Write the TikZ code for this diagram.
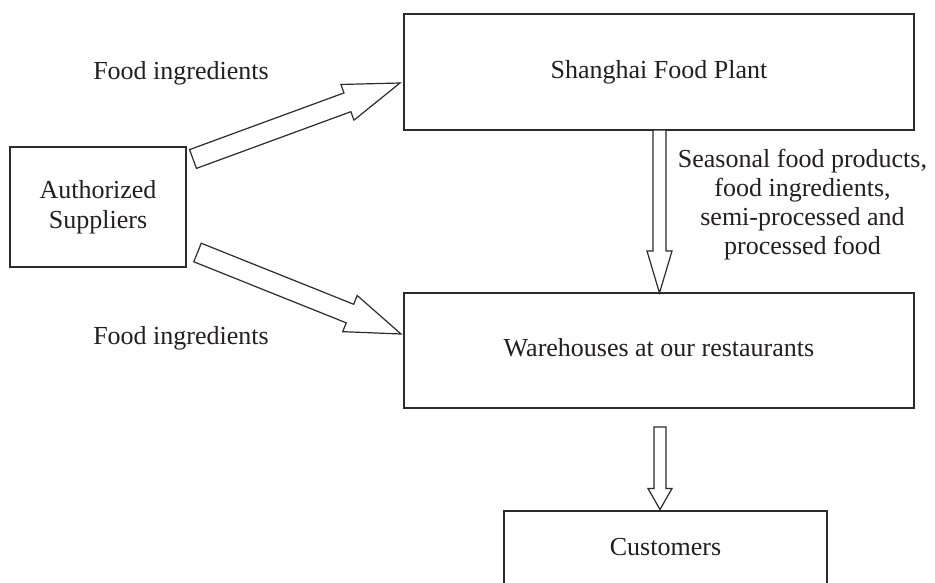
\documentclass[tikz,border=0pt]{standalone}
\usepackage{fontspec}
\setmainfont{Liberation Serif}
\usetikzlibrary{calc}
\definecolor{ink}{HTML}{231F20}
\definecolor{edge}{HTML}{2B2B2B}
% #1 tail, #2 tip, #3 half shaft, #4 half head, #5 head length
\newcommand\blockarrow[5]{%
  \draw[barrow] ($(#1)!#3!90:(#2)$)
    -- ($(#2)!#5!(#1)!#3!-90:(#1)$)
    -- ($(#2)!#5!(#1)!#4!-90:(#1)$)
    -- (#2)
    -- ($(#2)!#5!(#1)!#4!90:(#1)$)
    -- ($(#2)!#5!(#1)!#3!90:(#1)$)
    -- ($(#1)!#3!-90:(#2)$) -- cycle;}
\begin{document}
\begin{tikzpicture}[x=1pt,y=-1pt,
  txt/.style={font=\fontsize{26}{30}\selectfont, text=ink},
  box/.style={txt, draw=edge, line width=1.3pt, inner sep=0pt, outer sep=0pt,
    text height=18pt, text depth=6pt},
  barrow/.style={draw=edge, line width=1.2pt, fill=white, line join=miter}]
\clip (0,0) rectangle (935,582);
\fill[white] (0,0) rectangle (935,582);

\node[box, minimum width=510pt, minimum height=116pt] (plant) at (659,72) {Shanghai Food Plant};
\node[box, minimum width=510pt, minimum height=115pt] (ware) at (659,350.5) {Warehouses at our restaurants};
\node[box, minimum width=323pt, minimum height=76pt] (cust) at (665.5,549) {Customers};
\node[box, minimum width=176pt, minimum height=120pt, align=center, text height=, text depth=] (sup) at (98,207) {Authorized\\Suppliers};

\node[txt, anchor=base] (lab1) at (181,79) {Food ingredients};
\node[txt, anchor=base] (lab2) at (181,344) {Food ingredients};
\node[txt, align=center, font=\fontsize{26}{29}\selectfont] (lab3) at (802.5,204.5)
  {Seasonal food products,\\food ingredients,\\semi-processed and\\processed food};

\coordinate (a1t) at (193,159);
\coordinate (a1h) at (400,83);
\coordinate (a2t) at (197.5,252.5);
\coordinate (a2h) at (401,334);
\coordinate (a3t) at (plant.south -| 659.5,0);
\coordinate (a3h) at (ware.north -| 659.5,0);
\coordinate (a4t) at (660,427);
\coordinate (a4h) at (660,509.5);

\blockarrow{a1t}{a1h}{10pt}{19pt}{56pt}
\blockarrow{a2t}{a2h}{10pt}{19.5pt}{55pt}
\blockarrow{a3t}{a3h}{6.5pt}{12.5pt}{42pt}
\blockarrow{a4t}{a4h}{6pt}{12pt}{21pt}
\end{tikzpicture}
\end{document}
